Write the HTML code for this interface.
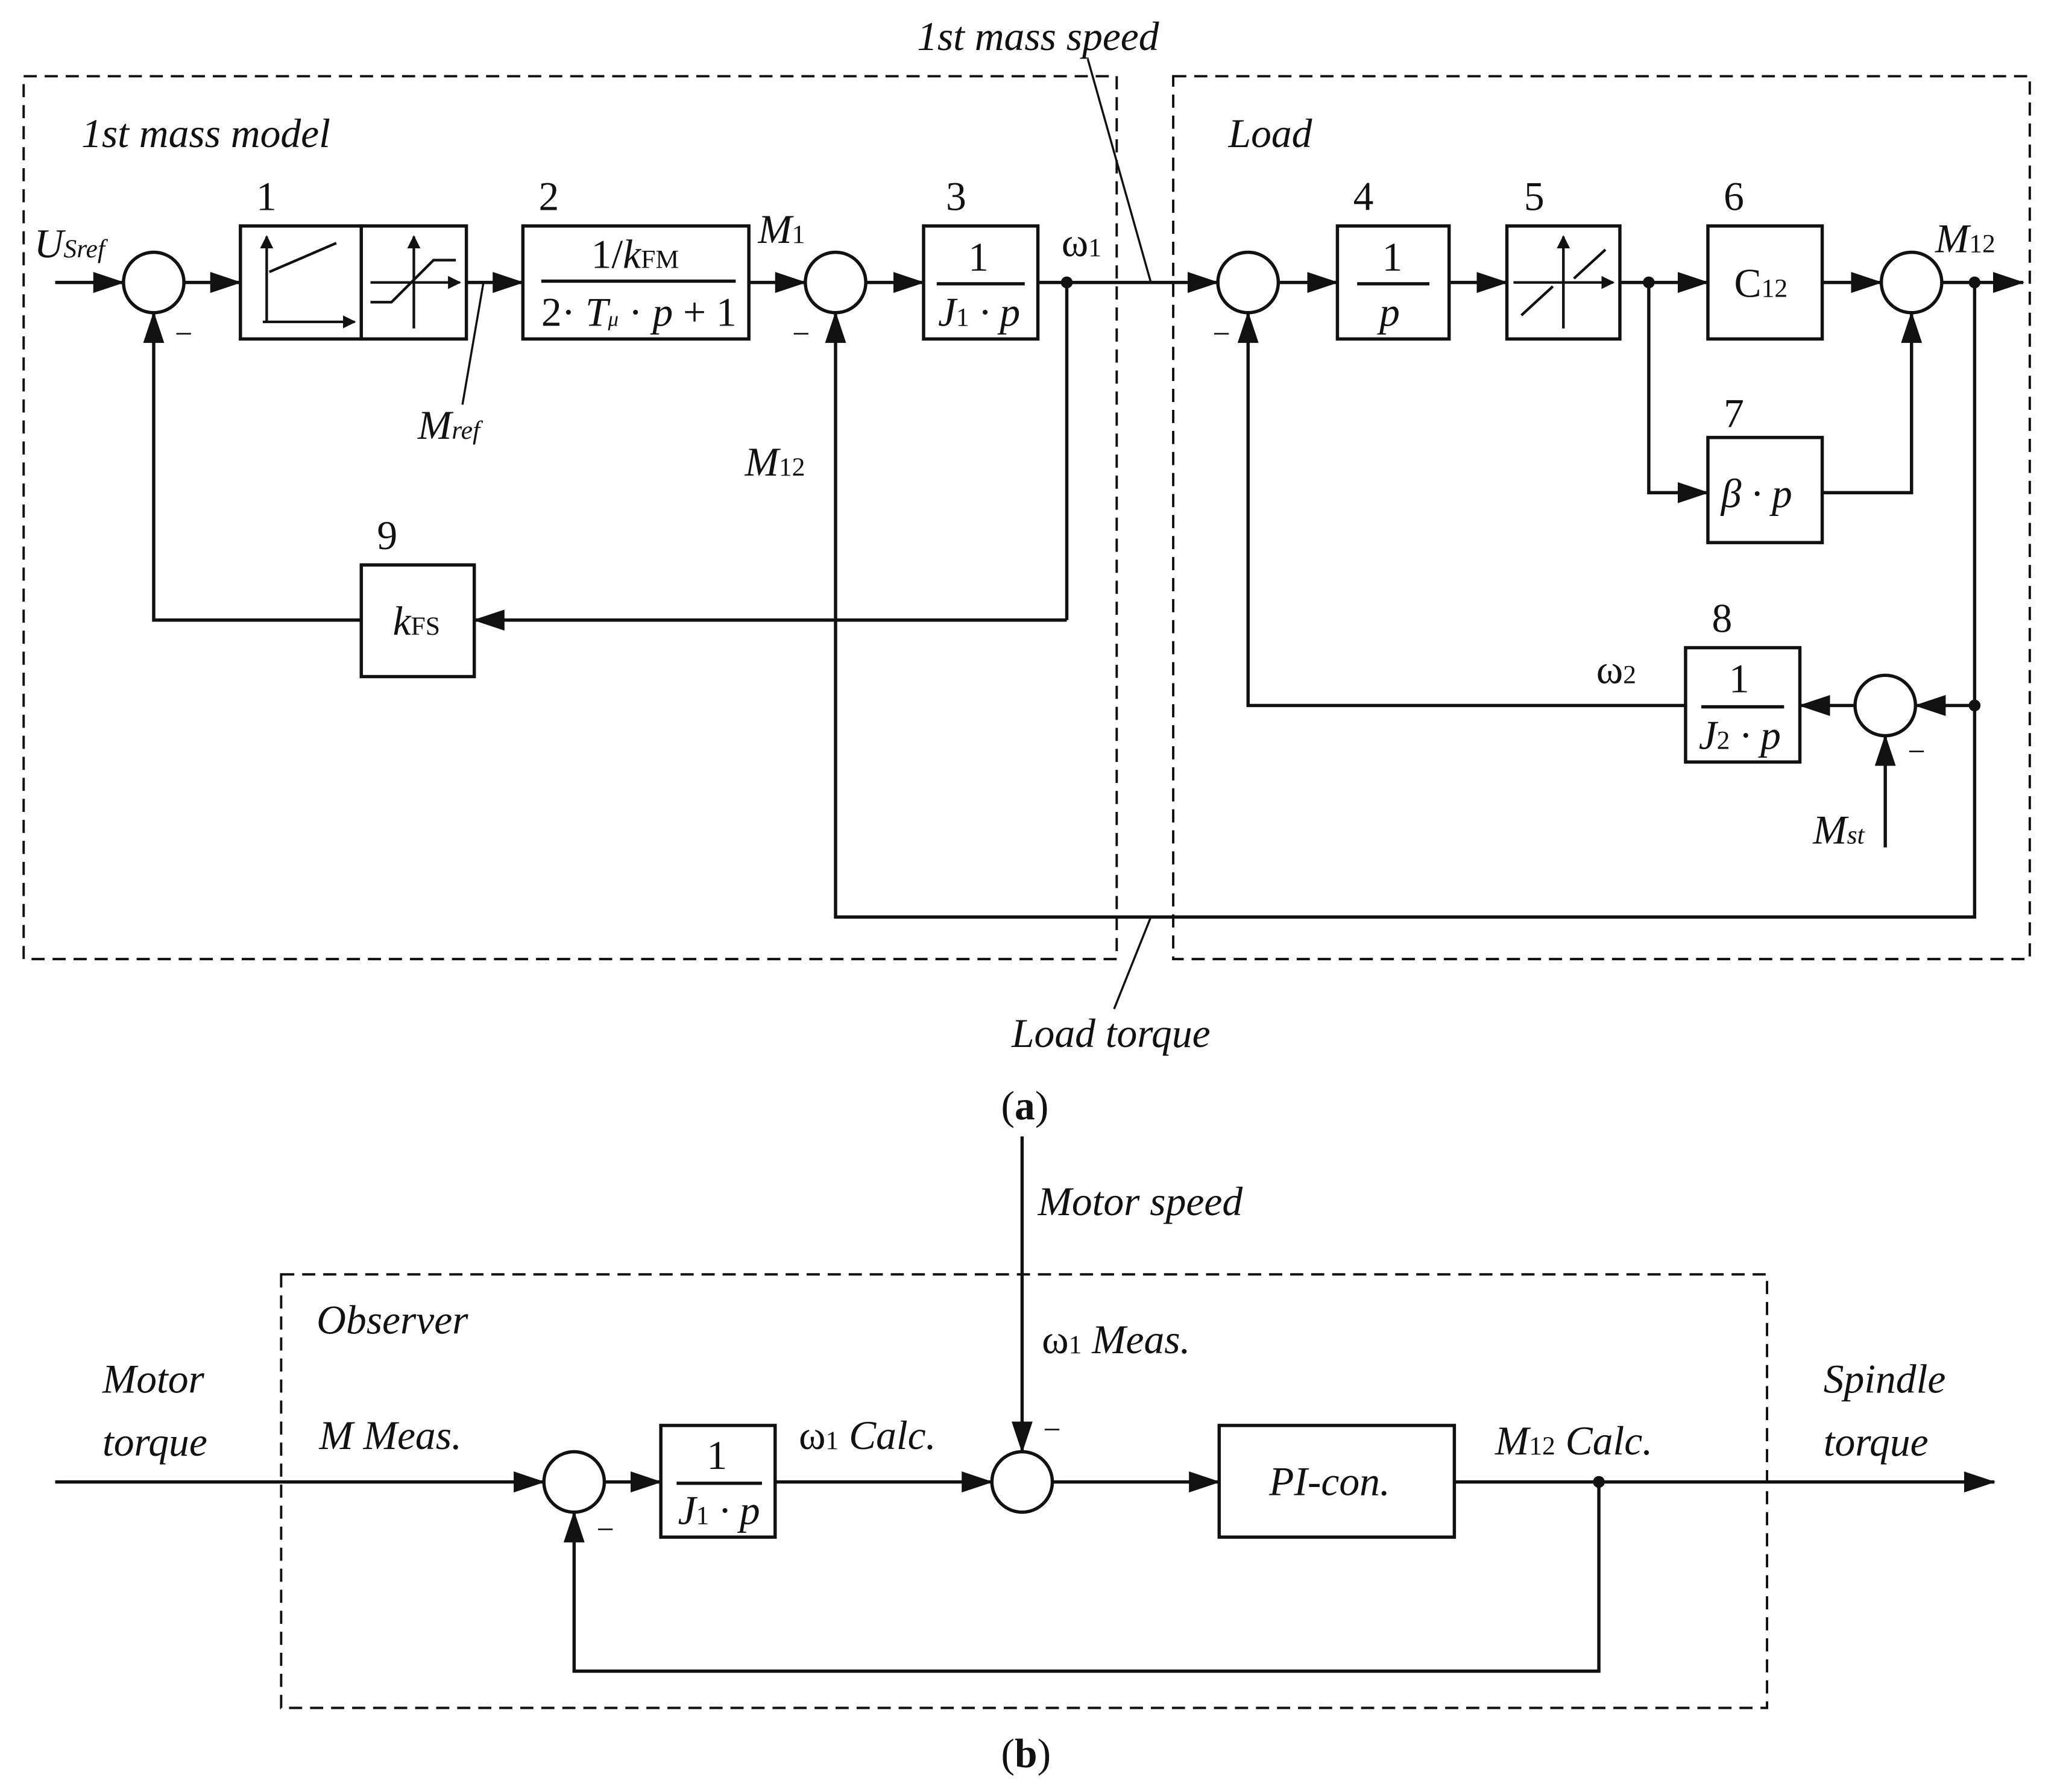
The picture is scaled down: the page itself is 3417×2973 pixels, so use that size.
<!DOCTYPE html>
<html><head><meta charset="utf-8"><style>
html,body{margin:0;padding:0;background:#fff;}
svg{display:block}
text{font-family:"Liberation Serif",serif;fill:#111;}
.i{font-style:italic}
</style></head><body>
<svg width="3417" height="2973" viewBox="0 0 1568 1364" preserveAspectRatio="none" xmlns="http://www.w3.org/2000/svg">
<defs><marker id="a" markerWidth="10" markerHeight="10" refX="9" refY="5" orient="auto" markerUnits="userSpaceOnUse"><path d="M0,0 L10,5 L0,10 Z" fill="#111"/></marker>
<marker id="b" markerWidth="24" markerHeight="16" refX="23" refY="8" orient="auto" markerUnits="userSpaceOnUse"><path d="M0,0 L24,8 L0,16 Z" fill="#111"/></marker></defs>
<g fill="none" stroke="#111" stroke-width="2.5">
<rect x="18" y="58" width="832" height="672" stroke-dasharray="10,6" stroke-width="1.8"/>
<rect x="893" y="58" width="652" height="672" stroke-dasharray="10,6" stroke-width="1.8"/>
<rect x="214" y="970" width="1131" height="330" stroke-dasharray="10,6" stroke-width="1.8"/>
<line x1="828" y1="45" x2="876" y2="215" stroke-width="1.6"/>
<line x1="848" y1="768" x2="876" y2="698" stroke-width="1.6"/>
<line x1="368" y1="215" x2="352" y2="308" stroke-width="1.6"/>
<line x1="42" y1="215" x2="94" y2="215" marker-end="url(#b)"/>
<circle cx="117" cy="215" r="23"/>
<line x1="140" y1="215" x2="183" y2="215" marker-end="url(#b)"/>
<rect x="183" y="172" width="92" height="86"/><rect x="275" y="172" width="80" height="86"/>
<line x1="355" y1="215" x2="398" y2="215" marker-end="url(#b)"/>
<rect x="398" y="172" width="172" height="86"/>
<line x1="412" y1="214" x2="560" y2="214"/>
<line x1="570" y1="215" x2="613" y2="215" marker-end="url(#b)"/>
<circle cx="636" cy="215" r="23"/>
<line x1="659" y1="215" x2="703" y2="215" marker-end="url(#b)"/>
<rect x="703" y="172" width="87" height="86"/>
<line x1="713" y1="216" x2="780" y2="216"/>
<line x1="790" y1="215" x2="927" y2="215" marker-end="url(#b)"/>
<circle cx="950" cy="215" r="23"/>
<line x1="812" y1="215" x2="812" y2="472"/>
<line x1="812" y1="472" x2="361" y2="472" marker-end="url(#b)"/>
<rect x="275" y="430" width="86" height="85"/>
<polyline points="275,472 117,472 117,238" marker-end="url(#b)"/>
<polyline points="1503,215 1503,698 636,698 636,238" marker-end="url(#b)"/>
<line x1="973" y1="215" x2="1018" y2="215" marker-end="url(#b)"/>
<rect x="1018" y="172" width="85" height="86"/>
<line x1="1033" y1="216" x2="1088" y2="216"/>
<line x1="1103" y1="215" x2="1147" y2="215" marker-end="url(#b)"/>
<rect x="1147" y="172" width="86" height="86"/>
<line x1="1233" y1="215" x2="1300" y2="215" marker-end="url(#b)"/>
<rect x="1300" y="172" width="87" height="86"/>
<line x1="1387" y1="215" x2="1432" y2="215" marker-end="url(#b)"/>
<circle cx="1455" cy="215" r="23"/>
<line x1="1478" y1="215" x2="1540" y2="215" marker-end="url(#b)"/>
<polyline points="1255,215 1255,375 1300,375" marker-end="url(#b)"/>
<rect x="1300" y="333" width="87" height="80"/>
<polyline points="1387,375 1455,375 1455,238" marker-end="url(#b)"/>
<line x1="1503" y1="537" x2="1458" y2="537" marker-end="url(#b)"/>
<circle cx="1435" cy="537" r="23"/>
<line x1="1412" y1="537" x2="1370" y2="537" marker-end="url(#b)"/>
<rect x="1283" y="493" width="87" height="87"/>
<line x1="1295" y1="538" x2="1358" y2="538"/>
<polyline points="1283,537 950,537 950,238" marker-end="url(#b)"/>
<line x1="1435" y1="645" x2="1435" y2="560" marker-end="url(#b)"/>
<line x1="203" y1="245" x2="203" y2="180" marker-end="url(#a)" stroke-width="2"/>
<line x1="200" y1="245" x2="270" y2="245" marker-end="url(#a)" stroke-width="2"/>
<line x1="205" y1="207" x2="256" y2="185" stroke-width="2"/>
<line x1="315" y1="250" x2="315" y2="180" marker-end="url(#a)" stroke-width="2"/>
<line x1="282" y1="215" x2="350" y2="215" marker-end="url(#a)" stroke-width="2"/>
<polyline points="282,230 298,230 330,198 347,198" stroke-width="2"/>
<line x1="1190" y1="250" x2="1190" y2="180" marker-end="url(#a)" stroke-width="2"/>
<line x1="1152" y1="215" x2="1228" y2="215" marker-end="url(#a)" stroke-width="2"/>
<line x1="1158" y1="240" x2="1182" y2="218" stroke-width="2"/>
<line x1="1198" y1="212" x2="1222" y2="190" stroke-width="2"/>
<line x1="778" y1="865" x2="778" y2="1105" marker-end="url(#b)"/>
<circle cx="778" cy="1128" r="23"/>
<line x1="42" y1="1128" x2="414" y2="1128" marker-end="url(#b)"/>
<circle cx="437" cy="1128" r="23"/>
<line x1="460" y1="1128" x2="503" y2="1128" marker-end="url(#b)"/>
<rect x="503" y="1085" width="87" height="85"/>
<line x1="515" y1="1129" x2="580" y2="1129"/>
<line x1="590" y1="1128" x2="755" y2="1128" marker-end="url(#b)"/>
<line x1="801" y1="1128" x2="928" y2="1128" marker-end="url(#b)"/>
<rect x="928" y="1085" width="179" height="85"/>
<line x1="1107" y1="1128" x2="1518" y2="1128" marker-end="url(#b)"/>
<polyline points="1217,1128 1217,1272 437,1272 437,1151" marker-end="url(#b)"/>
</g>
<g fill="#111">
<circle cx="812" cy="215" r="4.5"/><circle cx="1255" cy="215" r="4.5"/><circle cx="1503" cy="215" r="4.5"/><circle cx="1503" cy="537" r="4.5"/><circle cx="1217" cy="1128" r="4.5"/>
</g>
<g font-size="31">
<text x="698" y="38" class="i">1st mass speed</text>
<text x="62" y="112" class="i">1st mass model</text>
<text x="935" y="112" class="i">Load</text>
<text x="770" y="797" class="i">Load torque</text>
<text x="26" y="196" class="i">U<tspan font-size="20">Sref</tspan></text>
<text x="318" y="334" class="i">M<tspan font-size="20">ref</tspan></text>
<text x="577" y="185" class="i">M<tspan font-size="20" font-style="normal">1</tspan></text>
<text x="808" y="195">ω<tspan font-size="20">1</tspan></text>
<text x="567" y="362" class="i">M<tspan font-size="20" font-style="normal">12</tspan></text>
<text x="1473" y="192" class="i">M<tspan font-size="20" font-style="normal">12</tspan></text>
<text x="1215" y="520">ω<tspan font-size="20">2</tspan></text>
<text x="1380" y="642" class="i">M<tspan font-size="20">st</tspan></text>
<text x="195" y="160">1</text><text x="410" y="160">2</text><text x="720" y="160">3</text>
<text x="1030" y="160">4</text><text x="1160" y="160">5</text><text x="1312" y="160">6</text>
<text x="1312" y="325">7</text><text x="1303" y="481">8</text><text x="287" y="418">9</text>
<text x="450" y="204">1/<tspan class="i">k</tspan><tspan font-size="20">FM</tspan></text>
<text x="412" y="248">2· <tspan class="i">T</tspan><tspan font-size="16" class="i">μ</tspan> · <tspan class="i">p</tspan> + 1</text>
<text x="737" y="206">1</text>
<text x="714" y="248" class="i">J<tspan font-size="20" font-style="normal">1</tspan> · p</text>
<text x="299" y="483" class="i">k<tspan font-size="20" font-style="normal">FS</tspan></text>
<text x="1052" y="206">1</text><text x="1050" y="248" class="i">p</text>
<text x="1320" y="226">C<tspan font-size="20">12</tspan></text>
<text x="1310" y="386" class="i">β · p</text>
<text x="1316" y="527">1</text>
<text x="1293" y="570" class="i">J<tspan font-size="20" font-style="normal">2</tspan> · p</text>
<text x="133" y="262" font-size="24">−</text><text x="603" y="262" font-size="24">−</text>
<text x="923" y="262" font-size="24">−</text><text x="1452" y="580" font-size="24">−</text>
<text x="762" y="852">(<tspan font-weight="bold">a</tspan>)</text>
<text x="790" y="925" class="i">Motor speed</text>
<text x="793" y="1030"><tspan>ω</tspan><tspan font-size="20">1</tspan> <tspan class="i">Meas.</tspan></text>
<text x="241" y="1015" class="i">Observer</text>
<text x="78" y="1060" class="i">Motor</text><text x="78" y="1108" class="i">torque</text>
<text x="1388" y="1060" class="i">Spindle</text><text x="1388" y="1108" class="i">torque</text>
<text x="243" y="1103" class="i">M Meas.</text>
<text x="608" y="1103">ω<tspan font-size="20">1</tspan> <tspan class="i">Calc.</tspan></text>
<text x="1138" y="1107" class="i">M<tspan font-size="20" font-style="normal">12</tspan> Calc.</text>
<text x="538" y="1118">1</text>
<text x="516" y="1160" class="i">J<tspan font-size="20" font-style="normal">1</tspan> · p</text>
<text x="966" y="1138" class="i">PI-con.</text>
<text x="794" y="1096" font-size="24">−</text><text x="454" y="1172" font-size="24">−</text>
<text x="762" y="1345">(<tspan font-weight="bold">b</tspan>)</text>
</g>
</svg>
</body></html>
